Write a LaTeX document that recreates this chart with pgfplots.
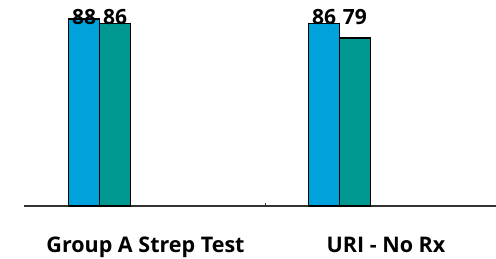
\documentclass[border=0pt]{standalone}
\usepackage{fontspec}
\setmainfont{Open Sans}
\usepackage{pgfplots}
\pgfplotsset{compat=1.18}
\definecolor{cblue}{RGB}{0,162,222}
\definecolor{cteal}{RGB}{0,152,145}
\definecolor{axgray}{RGB}{50,50,50}
\begin{document}
\begin{tikzpicture}
\begin{axis}[
  scale only axis, width=472pt, height=206pt,
  xmin=24, xmax=496, ymin=0, ymax=96.9,
  axis y line=none, axis x line*=bottom,
  axis line style={draw=axgray, line width=1.2pt},
  xtick={145.5,386}, xticklabels={Group A Strep Test, URI - No Rx},
  major tick length=0pt,
  minor xtick={265.7}, minor tick length=3pt,
  tick style={draw=axgray, line width=1.2pt},
  xticklabel style={font=\bfseries\fontsize{21.5}{24}\selectfont, anchor=base, yshift=-47pt},
  clip=false,
]
\addplot[ybar, bar width=31, bar shift=0pt, fill=cblue, draw=black, line width=1.2pt]
  coordinates {(84.2,88) (324.2,86)};
\addplot[ybar, bar width=31, bar shift=0pt, fill=cteal, draw=black, line width=1.2pt]
  coordinates {(115.2,86) (354.8,79)};
\addplot[draw=none, mark=none, nodes near coords, point meta=explicit symbolic,
  nodes near coords style={anchor=base, inner sep=0pt, font=\bfseries\fontsize{21}{24}\selectfont}]
  coordinates {(84.2,85.2)[88] (115.2,85.2)[86] (324.2,85.2)[86] (354.8,85.2)[79]};
\end{axis}
\pgfresetboundingbox
\path (current axis.south west) ++(-24pt,-53pt) rectangle ++(496pt,259pt);
\end{tikzpicture}
\end{document}
